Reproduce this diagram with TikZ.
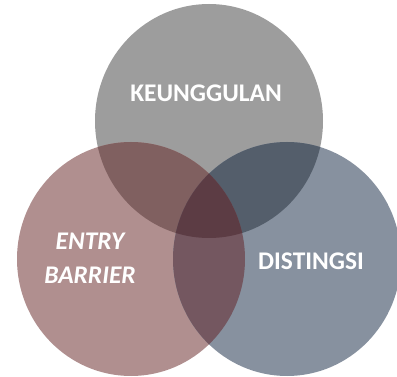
\documentclass[tikz,border=0pt]{standalone}
\usepackage{fontspec}
\setmainfont{Carlito}
\usepackage{tikz}
\definecolor{grau}{RGB}{157,157,157}
\definecolor{rosa}{RGB}{176,143,143}
\definecolor{blaugrau}{RGB}{135,145,159}
\definecolor{grauRosa}{RGB}{128,96,96}
\definecolor{grauBlau}{RGB}{84,94,107}
\definecolor{rosaBlau}{RGB}{116,87,96}
\definecolor{mitte}{RGB}{92,60,68}
\tikzset{label/.style={text=white, font=\bfseries\fontsize{25.5}{30}\selectfont, align=center, inner sep=0pt}}

\begin{document}
\begin{tikzpicture}[x=1bp, y=1bp]
	\useasboundingbox (0,0) rectangle (397,377);
	\clip (0,0) rectangle (397,377);

	\def\kreisA{(209,256) circle [x radius=114, y radius=117]}
	\def\kreisB{(131,118) circle [x radius=114, y radius=117]}
	\def\kreisC{(287,118) circle [x radius=114, y radius=117]}

	\fill[grau] \kreisA;
	\fill[rosa] \kreisB;
	\fill[blaugrau] \kreisC;

	\begin{scope}
		\clip \kreisA;
		\fill[grauRosa] \kreisB;
		\fill[grauBlau] \kreisC;
	\end{scope}
	\begin{scope}
		\clip \kreisB;
		\fill[rosaBlau] \kreisC;
		\clip \kreisC;
		\fill[mitte] \kreisA;
	\end{scope}

	\node[label] (keunggulan) at (206,284) {KEUNGGULAN};
	\node[label, font=\bfseries\itshape\fontsize{25.5}{34}\selectfont] (entry) at (90,119) {ENTRY\\BARRIER};
	\node[label] (distingsi) at (311,116) {DISTINGSI};
\end{tikzpicture}
\end{document}
